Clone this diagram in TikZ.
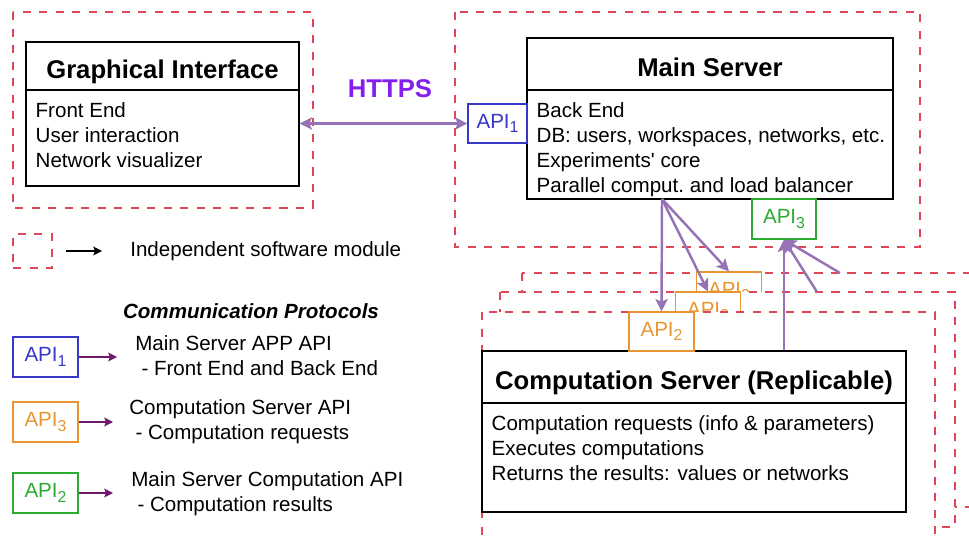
\documentclass[tikz,border=0pt]{standalone}
\usepackage{fontspec}
\setmainfont{Liberation Sans}
\usetikzlibrary{arrows.meta}

\definecolor{modred}{RGB}{225,70,88}
\definecolor{apiblue}{RGB}{55,55,200}
\definecolor{apiorange}{RGB}{232,150,50}
\definecolor{apigreen}{RGB}{45,170,50}
\definecolor{linkpurple}{RGB}{150,115,180}
\definecolor{keypurple}{RGB}{110,25,110}
\definecolor{httpsviolet}{RGB}{130,30,240}

\newcommand{\apisub}[1]{\raisebox{-2.6pt}{\fontsize{9}{9}\selectfont #1}}

\begin{document}
\begin{tikzpicture}[x=0.02cm,y=-0.02cm,>={Stealth[length=7pt,width=7pt,inset=1.5pt]},
	module/.style={draw=modred,line width=1.5pt,dash pattern=on 4.6pt off 4.8pt},
	hdr/.style={draw,line width=0.8pt,fill=white,inner sep=0pt,text height=14.5pt,text depth=0pt,font=\fontsize{14.6}{17}\selectfont\bfseries},
	bodybox/.style={draw,line width=0.8pt,fill=white,inner sep=0pt},
	bodytext/.style={anchor=north west,align=left,inner xsep=0.2cm,inner ysep=0.25cm,font=\fontsize{11.7}{14.3}\selectfont},
	api/.style={draw=#1,text=#1,fill=white,line width=0.7pt,minimum width=1.3cm,minimum height=0.78cm,inner sep=0pt,font=\fontsize{11.7}{14}\selectfont},
	link/.style={draw=linkpurple,line width=1.4pt},
	keylink/.style={draw=keypurple,line width=0.8pt,->,>={Stealth[length=5pt,width=5pt,inset=1pt]}},
	keytext/.style={anchor=west,align=left,inner sep=0pt,font=\fontsize{11.7}{14.3}\selectfont}]
	\useasboundingbox (0,0) rectangle (969,543);
	\clip (0,0) rectangle (969,543);
	%
	% graphical interface
	\draw[module] (13,12) rectangle (313,208);
	\node[hdr,minimum width=5.46cm,minimum height=0.96cm] (gi) at (162.5,66) {Graphical Interface};
	\node[bodybox,minimum width=5.46cm,minimum height=1.92cm] (gib) at (162.5,138) {};
	\node[bodytext] (gibt) at (gib.north west) {Front End\\User interaction\\Network visualizer};
	%
	% main server
	\draw[module] (455,12) rectangle (920,247);
	\node[hdr,minimum width=7.32cm,minimum height=1.04cm] (ms) at (710,64) {Main Server};
	\node[bodybox,minimum width=7.32cm,minimum height=2.18cm] (msb) at (710,144.5) {};
	\node[bodytext] (msbt) at (msb.north west) {Back End\\DB: users, workspaces, networks, etc.\\Experiments\textquotesingle{} core\\Parallel comput.\ and load balancer};
	\node[api=apiblue,minimum width=1.18cm] (api1) at (497.5,123.5) {API\apisub{1}};
	\node[api=apigreen,minimum width=1.28cm,minimum height=0.8cm] (api3) at (784,219) {API\apisub{3}};
	%
	% computation servers (replicas)
	\draw[module,fill=white] (522,273) rectangle (975,507);
	\node[api=apiorange] (apiC) at (729,291.5) {API\apisub{2}};
	\draw[module,fill=white] (500,292) rectangle (955,527);
	\node[api=apiorange] (apiB) at (708,311.5) {API\apisub{2}};
	\draw[module,fill=white] (482,312) rectangle (935,560);
	\node[hdr,minimum width=8.48cm,minimum height=1.04cm] (cs) at (694,377) {Computation Server (Replicable)};
	\node[bodybox,minimum width=8.48cm,minimum height=2.18cm] (csb) at (694,457.5) {};
	\node[bodytext] (csbt) at (csb.north west) {Computation requests (info \& parameters)\\Executes computations\\Returns the results: values or networks};
	\node[api=apiorange] (apiA) at (661.5,331.5) {API\apisub{2}};
	%
	% links
	\node[text=httpsviolet,font=\fontsize{14.6}{17}\selectfont\bfseries] (https) at (390,89) {HTTPS};
	\draw[link,<->] (gib.east |- api1.west) -- (api1.west);
	\coordinate (fork) at (662,199);
	\draw[link,->] (fork) -- (apiA.north);
	\draw[link,->] (fork) -- (apiB.north);
	\draw[link,->] (fork) -- (apiC.north);
	\coordinate (midtop) at (817,292);
	\coordinate (backtop) at (840,273);
	\draw[link,->] (cs.north -| api3.south) -- (api3.south);
	\draw[link,->] (midtop) -- (api3.south);
	\draw[link,->] (backtop) -- (api3.south);
	%
	% legend
	\node[draw=modred,line width=1.5pt,dash pattern=on 4.6pt off 4.8pt,minimum width=0.78cm,minimum height=0.68cm,inner sep=0pt] (modkey) at (32.5,251) {};
	\node[keytext] (modtxt) at (130,251) {Independent software module};
	\draw[->,line width=0.7pt,>={Stealth[length=5pt,width=5pt,inset=1pt]},shorten <=0.26cm,shorten >=0.56cm] (modkey.east) -- (modtxt.west);
	\node[font=\fontsize{11.7}{14.3}\selectfont\bfseries\itshape] (proto) at (251,311) {Communication Protocols};
	\node[api=apiblue,minimum height=0.8cm] (k1) at (45.5,357) {API\apisub{1}};
	\node[keytext] (k1txt) at (135,355.5) {Main Server APP API\\\hspace*{3.5pt}- Front End and Back End};
	\draw[keylink,shorten >=0.36cm] (k1.east) -- (k1.east -| k1txt.west);
	\node[api=apiorange,minimum height=0.8cm] (k3) at (45.5,422) {API\apisub{3}};
	\node[keytext] (k3txt) at (129,422) {Computation Server API\\\hspace*{3.5pt}- Computation requests};
	\draw[keylink,shorten >=0.32cm] (k3.east) -- (k3.east -| k3txt.west);
	\node[api=apigreen,minimum height=0.8cm] (k2) at (45.5,493) {API\apisub{2}};
	\node[keytext] (k2txt) at (131,493.5) {Main Server Computation API\\\hspace*{3.5pt}- Computation results};
	\draw[keylink,shorten >=0.36cm] (k2.east) -- (k2.east -| k2txt.west);
\end{tikzpicture}
\end{document}
